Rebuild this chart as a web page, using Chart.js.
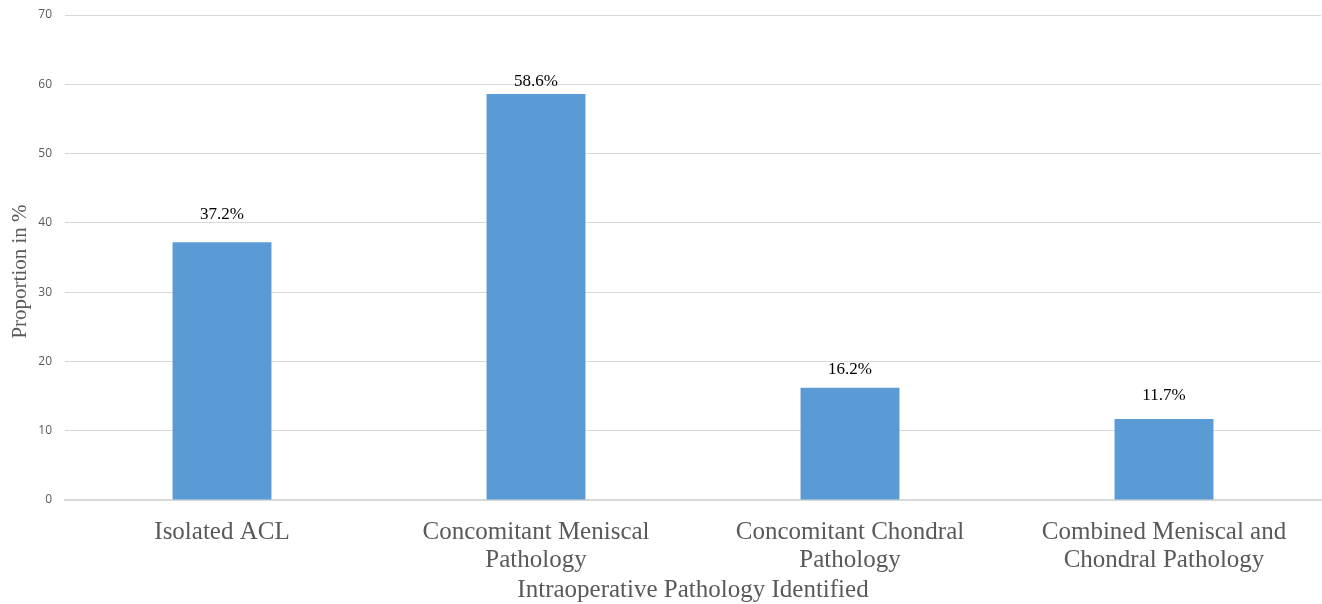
<!DOCTYPE html>
<html>
<head>
<meta charset="utf-8">
<style>
  html, body { margin: 0; padding: 0; background: #ffffff; }
  #wrap { position: relative; width: 1322px; height: 604px; }
</style>
<script src="https://cdn.jsdelivr.net/npm/chart.js@4/dist/chart.umd.min.js"></script>
</head>
<body>
<div id="wrap"><canvas id="chart" width="1322" height="604"></canvas></div>
<script>
// Intraoperative pathology found at ACL reconstruction, proportion in %
const categories = [
  ['Isolated ACL'],
  ['Concomitant Meniscal', 'Pathology'],
  ['Concomitant Chondral', 'Pathology'],
  ['Combined Meniscal and', 'Chondral Pathology']
];
const proportions = [37.2, 58.6, 16.2, 11.7];
const yTicks = [0, 10, 20, 30, 40, 50, 60, 70];
const yTitle = 'Proportion in %';
const xTitle = 'Intraoperative Pathology Identified';

const SERIF = '"Liberation Serif", "Times New Roman", serif';
const SANS = '"Open Sans", "Noto Sans", sans-serif';

// Each value label sits in its own hand-placed text box above its bar (px gap to the bar top)
const labelGaps = [23, 8, 14, 19];

// Writes the percentage above each bar and the rotated value-axis title
const annotations = {
  id: 'annotations',
  afterDatasetsDraw(chart) {
    const ctx = chart.ctx;
    const meta = chart.getDatasetMeta(0);
    ctx.save();
    ctx.font = '17px ' + SERIF;
    ctx.fillStyle = '#000000';
    ctx.textAlign = 'center';
    ctx.textBaseline = 'alphabetic';
    meta.data.forEach((bar, i) => {
      ctx.fillText(proportions[i].toFixed(1) + '%', bar.x, bar.y - labelGaps[i]);
    });
    ctx.restore();

    const area = chart.chartArea;
    ctx.save();
    ctx.font = '21px ' + SERIF;
    ctx.fillStyle = '#595959';
    ctx.textAlign = 'center';
    ctx.textBaseline = 'middle';
    ctx.translate(20, (area.top + area.bottom) / 2 + 14);
    ctx.rotate(-Math.PI / 2);
    ctx.fillText(yTitle, 0, 0);
    ctx.restore();
  }
};

new Chart(document.getElementById('chart'), {
  type: 'bar',
  data: {
    labels: categories,
    datasets: [{
      data: proportions,
      backgroundColor: '#5B9BD5',
      borderWidth: 0,
      categoryPercentage: 1.0,
      barPercentage: 0.315
    }]
  },
  options: {
    responsive: false,
    animation: false,
    layout: { padding: { top: 15, right: 1, left: 0, bottom: 0 } },
    plugins: { legend: { display: false }, tooltip: { enabled: false } },
    scales: {
      x: {
        grid: { display: false, drawTicks: false },
        border: { display: true, color: '#d9d9d9', width: 2 },
        ticks: {
          color: '#595959',
          font: { family: SERIF, size: 25, lineHeight: 1.12 },
          padding: 18,
          maxRotation: 0,
          autoSkip: false
        },
        title: {
          display: true,
          text: xTitle,
          color: '#595959',
          font: { family: SERIF, size: 25 },
          padding: { top: 0, bottom: -1 }
        },
        afterFit(scale) {
          scale.height = 104;
          scale.paddingLeft = 0;
          scale.paddingRight = 0;
        }
      },
      y: {
        min: 0,
        max: 70,
        afterBuildTicks(scale) { scale.ticks = yTicks.map(v => ({ value: v })); },
        grid: { color: '#d9d9d9', lineWidth: 1, drawTicks: false },
        border: { display: false },
        ticks: {
          color: '#595959',
          font: { family: SANS, size: 12 },
          padding: 13
        },
        afterFit(scale) {
          scale.width = 65;
          scale.paddingTop = 0;
          scale.paddingBottom = 0;
        }
      }
    }
  },
  plugins: [annotations]
});
</script>
</body>
</html>
